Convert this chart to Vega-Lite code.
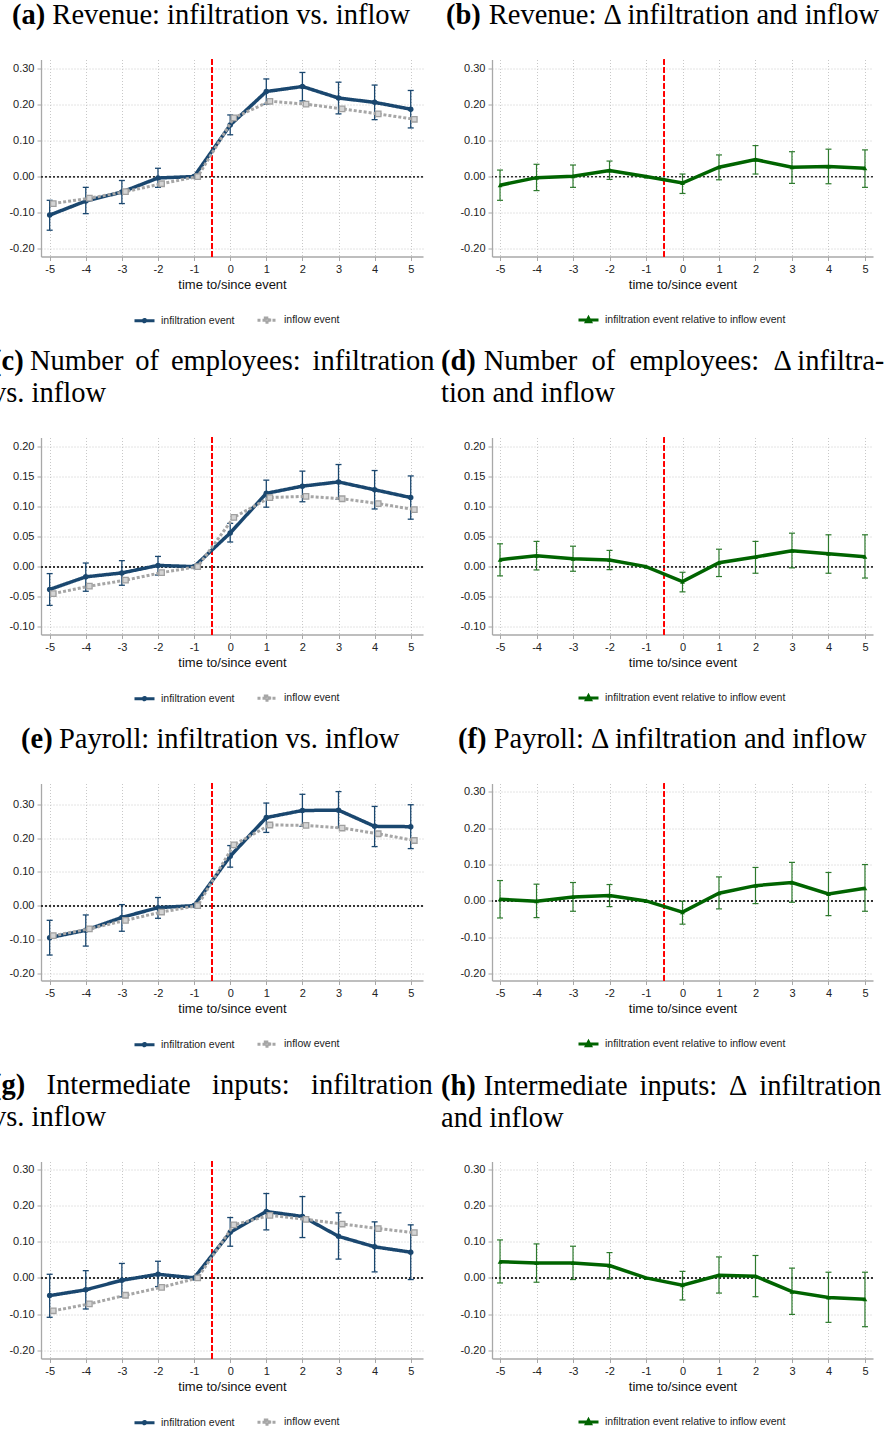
{
"$schema":"https://vega.github.io/schema/vega-lite/v6.json",
"background":"white",
"padding":{"left":-8,"top":0.5,"right":0,"bottom":0},
"autosize":{"type":"pad"},
"datasets":{"d":[
{"p":"a","s":"infiltration event","t":-5,"est":-0.107,"lo":-0.149,"hi":-0.066},
{"p":"a","s":"infiltration event","t":-4,"est":-0.068,"lo":-0.103,"hi":-0.030},
{"p":"a","s":"infiltration event","t":-3,"est":-0.043,"lo":-0.075,"hi":-0.011},
{"p":"a","s":"infiltration event","t":-2,"est":-0.004,"lo":-0.030,"hi":0.023},
{"p":"a","s":"infiltration event","t":-1,"est":0},
{"p":"a","s":"infiltration event","t":0,"est":0.143,"lo":0.116,"hi":0.171},
{"p":"a","s":"infiltration event","t":1,"est":0.236,"lo":0.201,"hi":0.271},
{"p":"a","s":"infiltration event","t":2,"est":0.250,"lo":0.210,"hi":0.289},
{"p":"a","s":"infiltration event","t":3,"est":0.218,"lo":0.174,"hi":0.262},
{"p":"a","s":"infiltration event","t":4,"est":0.206,"lo":0.158,"hi":0.254},
{"p":"a","s":"infiltration event","t":5,"est":0.187,"lo":0.135,"hi":0.239},
{"p":"a","s":"inflow event","t":-5,"est":-0.075},
{"p":"a","s":"inflow event","t":-4,"est":-0.060},
{"p":"a","s":"inflow event","t":-3,"est":-0.042},
{"p":"a","s":"inflow event","t":-2,"est":-0.020},
{"p":"a","s":"inflow event","t":-1,"est":0},
{"p":"a","s":"inflow event","t":0,"est":0.163},
{"p":"a","s":"inflow event","t":1,"est":0.209},
{"p":"a","s":"inflow event","t":2,"est":0.201},
{"p":"a","s":"inflow event","t":3,"est":0.188},
{"p":"a","s":"inflow event","t":4,"est":0.174},
{"p":"a","s":"inflow event","t":5,"est":0.159},
{"p":"b","s":"infiltration event relative to inflow event","t":-5,"est":-0.024,"lo":-0.066,"hi":0.018},
{"p":"b","s":"infiltration event relative to inflow event","t":-4,"est":-0.003,"lo":-0.039,"hi":0.034},
{"p":"b","s":"infiltration event relative to inflow event","t":-3,"est":0.001,"lo":-0.030,"hi":0.032},
{"p":"b","s":"infiltration event relative to inflow event","t":-2,"est":0.017,"lo":-0.008,"hi":0.043},
{"p":"b","s":"infiltration event relative to inflow event","t":-1,"est":0},
{"p":"b","s":"infiltration event relative to inflow event","t":0,"est":-0.018,"lo":-0.047,"hi":0.007},
{"p":"b","s":"infiltration event relative to inflow event","t":1,"est":0.026,"lo":-0.009,"hi":0.060},
{"p":"b","s":"infiltration event relative to inflow event","t":2,"est":0.047,"lo":0.007,"hi":0.086},
{"p":"b","s":"infiltration event relative to inflow event","t":3,"est":0.026,"lo":-0.019,"hi":0.069},
{"p":"b","s":"infiltration event relative to inflow event","t":4,"est":0.028,"lo":-0.020,"hi":0.076},
{"p":"b","s":"infiltration event relative to inflow event","t":5,"est":0.023,"lo":-0.030,"hi":0.074},
{"p":"c","s":"infiltration event","t":-5,"est":-0.038,"lo":-0.0645,"hi":-0.0116},
{"p":"c","s":"infiltration event","t":-4,"est":-0.017,"lo":-0.041,"hi":0.006},
{"p":"c","s":"infiltration event","t":-3,"est":-0.0105,"lo":-0.031,"hi":0.010},
{"p":"c","s":"infiltration event","t":-2,"est":0.002,"lo":-0.014,"hi":0.017},
{"p":"c","s":"infiltration event","t":-1,"est":0},
{"p":"c","s":"infiltration event","t":0,"est":0.056,"lo":0.041,"hi":0.072},
{"p":"c","s":"infiltration event","t":1,"est":0.122,"lo":0.099,"hi":0.144},
{"p":"c","s":"infiltration event","t":2,"est":0.134,"lo":0.108,"hi":0.159},
{"p":"c","s":"infiltration event","t":3,"est":0.141,"lo":0.112,"hi":0.170},
{"p":"c","s":"infiltration event","t":4,"est":0.128,"lo":0.096,"hi":0.160},
{"p":"c","s":"infiltration event","t":5,"est":0.115,"lo":0.079,"hi":0.151},
{"p":"c","s":"inflow event","t":-5,"est":-0.045},
{"p":"c","s":"inflow event","t":-4,"est":-0.0325},
{"p":"c","s":"inflow event","t":-3,"est":-0.0226},
{"p":"c","s":"inflow event","t":-2,"est":-0.010},
{"p":"c","s":"inflow event","t":-1,"est":0},
{"p":"c","s":"inflow event","t":0,"est":0.082},
{"p":"c","s":"inflow event","t":1,"est":0.115},
{"p":"c","s":"inflow event","t":2,"est":0.117},
{"p":"c","s":"inflow event","t":3,"est":0.113},
{"p":"c","s":"inflow event","t":4,"est":0.105},
{"p":"c","s":"inflow event","t":5,"est":0.095},
{"p":"d","s":"infiltration event relative to inflow event","t":-5,"est":0.0116,"lo":-0.0154,"hi":0.038},
{"p":"d","s":"infiltration event relative to inflow event","t":-4,"est":0.018,"lo":-0.0055,"hi":0.042},
{"p":"d","s":"infiltration event relative to inflow event","t":-3,"est":0.013,"lo":-0.0077,"hi":0.034},
{"p":"d","s":"infiltration event relative to inflow event","t":-2,"est":0.011,"lo":-0.005,"hi":0.027},
{"p":"d","s":"infiltration event relative to inflow event","t":-1,"est":0},
{"p":"d","s":"infiltration event relative to inflow event","t":0,"est":-0.025,"lo":-0.042,"hi":-0.0094},
{"p":"d","s":"infiltration event relative to inflow event","t":1,"est":0.0066,"lo":-0.0165,"hi":0.029},
{"p":"d","s":"infiltration event relative to inflow event","t":2,"est":0.016,"lo":-0.011,"hi":0.042},
{"p":"d","s":"infiltration event relative to inflow event","t":3,"est":0.0265,"lo":-0.002,"hi":0.0557},
{"p":"d","s":"infiltration event relative to inflow event","t":4,"est":0.0215,"lo":-0.011,"hi":0.053},
{"p":"d","s":"infiltration event relative to inflow event","t":5,"est":0.0165,"lo":-0.019,"hi":0.053},
{"p":"e","s":"infiltration event","t":-5,"est":-0.095,"lo":-0.1465,"hi":-0.0436},
{"p":"e","s":"infiltration event","t":-4,"est":-0.073,"lo":-0.120,"hi":-0.0277},
{"p":"e","s":"infiltration event","t":-3,"est":-0.035,"lo":-0.076,"hi":0.003},
{"p":"e","s":"infiltration event","t":-2,"est":-0.006,"lo":-0.0376,"hi":0.024},
{"p":"e","s":"infiltration event","t":-1,"est":0},
{"p":"e","s":"infiltration event","t":0,"est":0.1465,"lo":0.114,"hi":0.178},
{"p":"e","s":"infiltration event","t":1,"est":0.261,"lo":0.217,"hi":0.304},
{"p":"e","s":"infiltration event","t":2,"est":0.282,"lo":0.235,"hi":0.330},
{"p":"e","s":"infiltration event","t":3,"est":0.283,"lo":0.231,"hi":0.338},
{"p":"e","s":"infiltration event","t":4,"est":0.235,"lo":0.175,"hi":0.294},
{"p":"e","s":"infiltration event","t":5,"est":0.234,"lo":0.169,"hi":0.299},
{"p":"e","s":"inflow event","t":-5,"est":-0.089},
{"p":"e","s":"inflow event","t":-4,"est":-0.069},
{"p":"e","s":"inflow event","t":-3,"est":-0.0436},
{"p":"e","s":"inflow event","t":-2,"est":-0.019},
{"p":"e","s":"inflow event","t":-1,"est":0},
{"p":"e","s":"inflow event","t":0,"est":0.180},
{"p":"e","s":"inflow event","t":1,"est":0.239},
{"p":"e","s":"inflow event","t":2,"est":0.238},
{"p":"e","s":"inflow event","t":3,"est":0.230},
{"p":"e","s":"inflow event","t":4,"est":0.213},
{"p":"e","s":"inflow event","t":5,"est":0.193},
{"p":"f","s":"infiltration event relative to inflow event","t":-5,"est":0.0046,"lo":-0.047,"hi":0.056},
{"p":"f","s":"infiltration event relative to inflow event","t":-4,"est":-0.001,"lo":-0.046,"hi":0.046},
{"p":"f","s":"infiltration event relative to inflow event","t":-3,"est":0.011,"lo":-0.0285,"hi":0.0506},
{"p":"f","s":"infiltration event relative to inflow event","t":-2,"est":0.0147,"lo":-0.0156,"hi":0.045},
{"p":"f","s":"infiltration event relative to inflow event","t":-1,"est":0},
{"p":"f","s":"infiltration event relative to inflow event","t":0,"est":-0.031,"lo":-0.064,"hi":-0.001},
{"p":"f","s":"infiltration event relative to inflow event","t":1,"est":0.021,"lo":-0.022,"hi":0.066},
{"p":"f","s":"infiltration event relative to inflow event","t":2,"est":0.042,"lo":-0.0074,"hi":0.092},
{"p":"f","s":"infiltration event relative to inflow event","t":3,"est":0.0506,"lo":-0.0037,"hi":0.106},
{"p":"f","s":"infiltration event relative to inflow event","t":4,"est":0.019,"lo":-0.0405,"hi":0.0782},
{"p":"f","s":"infiltration event relative to inflow event","t":5,"est":0.035,"lo":-0.0285,"hi":0.100},
{"p":"g","s":"infiltration event","t":-5,"est":-0.049,"lo":-0.109,"hi":0.010},
{"p":"g","s":"infiltration event","t":-4,"est":-0.033,"lo":-0.086,"hi":0.020},
{"p":"g","s":"infiltration event","t":-3,"est":-0.0065,"lo":-0.0526,"hi":0.040},
{"p":"g","s":"infiltration event","t":-2,"est":0.010,"lo":-0.024,"hi":0.046},
{"p":"g","s":"infiltration event","t":-1,"est":0},
{"p":"g","s":"infiltration event","t":0,"est":0.126,"lo":0.0876,"hi":0.167},
{"p":"g","s":"infiltration event","t":1,"est":0.1836,"lo":0.1328,"hi":0.2334},
{"p":"g","s":"infiltration event","t":2,"est":0.170,"lo":0.1116,"hi":0.225},
{"p":"g","s":"infiltration event","t":3,"est":0.115,"lo":0.052,"hi":0.180},
{"p":"g","s":"infiltration event","t":4,"est":0.086,"lo":0.0166,"hi":0.155},
{"p":"g","s":"infiltration event","t":5,"est":0.071,"lo":-0.0046,"hi":0.1467},
{"p":"g","s":"inflow event","t":-5,"est":-0.091},
{"p":"g","s":"inflow event","t":-4,"est":-0.072},
{"p":"g","s":"inflow event","t":-3,"est":-0.048},
{"p":"g","s":"inflow event","t":-2,"est":-0.026},
{"p":"g","s":"inflow event","t":-1,"est":0},
{"p":"g","s":"inflow event","t":0,"est":0.1467},
{"p":"g","s":"inflow event","t":1,"est":0.173},
{"p":"g","s":"inflow event","t":2,"est":0.162},
{"p":"g","s":"inflow event","t":3,"est":0.149},
{"p":"g","s":"inflow event","t":4,"est":0.1365},
{"p":"g","s":"inflow event","t":5,"est":0.125},
{"p":"h","s":"infiltration event relative to inflow event","t":-5,"est":0.045,"lo":-0.014,"hi":0.105},
{"p":"h","s":"infiltration event relative to inflow event","t":-4,"est":0.0415,"lo":-0.012,"hi":0.094},
{"p":"h","s":"infiltration event relative to inflow event","t":-3,"est":0.0415,"lo":-0.0046,"hi":0.0876},
{"p":"h","s":"infiltration event relative to inflow event","t":-2,"est":0.034,"lo":-0.003,"hi":0.070},
{"p":"h","s":"infiltration event relative to inflow event","t":-1,"est":0},
{"p":"h","s":"infiltration event relative to inflow event","t":0,"est":-0.020,"lo":-0.061,"hi":0.018},
{"p":"h","s":"infiltration event relative to inflow event","t":1,"est":0.0074,"lo":-0.042,"hi":0.058},
{"p":"h","s":"infiltration event relative to inflow event","t":2,"est":0.0046,"lo":-0.052,"hi":0.062},
{"p":"h","s":"infiltration event relative to inflow event","t":3,"est":-0.038,"lo":-0.101,"hi":0.027},
{"p":"h","s":"infiltration event relative to inflow event","t":4,"est":-0.054,"lo":-0.123,"hi":0.0157},
{"p":"h","s":"infiltration event relative to inflow event","t":5,"est":-0.059,"lo":-0.135,"hi":0.0157}
]},
"resolve":{"scale":{"color":"independent","strokeDash":"independent"}},
"spacing":18,
"vconcat":[
{"hconcat":[
 {"width":382,"height":197,"data":{"name":"d"},"transform":[{"filter":"datum.p=='a'"}],
  "title":{"text":"(a)","subtitle":"\u200b\u2003\u2005\u2006Revenue: infiltration vs. inflow","dx":-29},
  "layer":[
   {"mark":{"type":"rule","color":"#ff0000","strokeDash":[5,3],"strokeWidth":1.2},"encoding":{"x":{"datum":-0.5,"type":"quantitative"}}},
   {"mark":{"type":"rule","color":"#333333","strokeDash":[2,2],"strokeWidth":1},"encoding":{"y":{"datum":0,"type":"quantitative"}}},
   {"transform":[{"filter":"datum.s=='infiltration event'"}],"mark":{"type":"rule","color":"#1a476f","strokeWidth":1.3},"encoding":{"x":{"field":"t","type":"quantitative","scale":{"domain":[-5.24,5.34],"nice":false,"zero":false},"axis":{"values":[-5,-4,-3,-2,-1,0,1,2,3,4,5],"tickCount":30,"labelOverlap":false,"labelExpr":"replace(format(datum.value,'d'),'\u2212','-')","title":"time to/since event"}},"y":{"field":"lo","type":"quantitative","scale":{"domain":[-0.222,0.325],"nice":false,"zero":false},"axis":{"values":[-0.2,-0.1,0,0.1,0.2,0.3],"tickCount":30,"labelOverlap":false,"labelExpr":"replace(format(datum.value,'.2f'),'\u2212','-')","title":null}},"y2":{"field":"hi"}}},
   {"transform":[{"filter":"datum.s=='infiltration event'"}],"mark":{"type":"tick","orient":"horizontal","color":"#1a476f","size":6,"thickness":1.3,"opacity":1},"encoding":{"x":{"field":"t","type":"quantitative"},"y":{"field":"lo","type":"quantitative"}}},
   {"transform":[{"filter":"datum.s=='infiltration event'"}],"mark":{"type":"tick","orient":"horizontal","color":"#1a476f","size":6,"thickness":1.3,"opacity":1},"encoding":{"x":{"field":"t","type":"quantitative"},"y":{"field":"hi","type":"quantitative"}}},
   {"transform":[{"filter":"datum.s=='infiltration event'"}],"mark":{"type":"line","strokeWidth":3.5},"encoding":{"x":{"field":"t","type":"quantitative"},"y":{"field":"est","type":"quantitative"},"color":{"field":"s","type":"nominal","scale":{"domain":["infiltration event","inflow event"],"range":["#1a476f","#a6a6a6"]},"legend":{"title":null,"orient":"none","legendX":92,"legendY":249,"direction":"horizontal","symbolType":"stroke","symbolSize":400,"symbolStrokeWidth":3,"labelOffset":5,"columnPadding":16,"padding":0,"labelFontSize":10.5,"labelLimit":300,"labelFont":"Liberation Sans","labelColor":"#222222","encode":{"symbols":{"update":{"shape":{"signal":"datum.value === 'inflow event' ? 'M-1,0H1M-0.22,-0.22H0.22V0.22H-0.22Z' : 'M-1,0H1M-0.12,0A0.12,0.12,0,1,1,0.12,0A0.12,0.12,0,1,1,-0.12,0Z'"},"fill":{"signal":"datum.value === 'inflow event' ? '#d4d4d4' : '#1a476f'"}}}}}},"strokeDash":{"field":"s","type":"nominal","scale":{"domain":["infiltration event","inflow event"],"range":[[1,0],[3,2]]},"legend":{"title":null,"orient":"none","legendX":92,"legendY":249,"direction":"horizontal","symbolType":"stroke","symbolSize":400,"symbolStrokeWidth":3,"labelOffset":5,"columnPadding":16,"padding":0,"labelFontSize":10.5,"labelLimit":300,"labelFont":"Liberation Sans","labelColor":"#222222"}}}},
   {"transform":[{"filter":"datum.s=='infiltration event'"}],"mark":{"type":"circle","color":"#1a476f","size":30,"opacity":1},"encoding":{"x":{"field":"t","type":"quantitative"},"y":{"field":"est","type":"quantitative"}}},
   {"transform":[{"filter":"datum.s=='inflow event'"}],"mark":{"type":"line","strokeWidth":3,"xOffset":3.6},"encoding":{"x":{"field":"t","type":"quantitative"},"y":{"field":"est","type":"quantitative"},"color":{"field":"s","type":"nominal"},"strokeDash":{"field":"s","type":"nominal"}}},
   {"transform":[{"filter":"datum.s=='inflow event'"}],"mark":{"type":"square","fill":"#d4d4d4","stroke":"#a0a0a0","strokeWidth":1.3,"size":30,"xOffset":3.6,"opacity":1},"encoding":{"x":{"field":"t","type":"quantitative"},"y":{"field":"est","type":"quantitative"}}}
  ]},
 {"width":381,"height":197,"data":{"name":"d"},"transform":[{"filter":"datum.p=='b'"}],
  "title":{"text":"(b)","subtitle":"\u200b\u2003\u2004\u2006Revenue: \u0394 infiltration and inflow","dx":-46},
  "layer":[
   {"mark":{"type":"rule","color":"#ff0000","strokeDash":[5,3],"strokeWidth":1.2},"encoding":{"x":{"datum":-0.5,"type":"quantitative"}}},
   {"mark":{"type":"rule","color":"#333333","strokeDash":[2,2],"strokeWidth":1},"encoding":{"y":{"datum":0,"type":"quantitative"}}},
   {"mark":{"type":"rule","color":"#2d7a2d","strokeWidth":1.2},"encoding":{"x":{"field":"t","type":"quantitative","scale":{"domain":[-5.22,5.22],"nice":false,"zero":false},"axis":{"values":[-5,-4,-3,-2,-1,0,1,2,3,4,5],"tickCount":30,"labelOverlap":false,"labelExpr":"replace(format(datum.value,'d'),'\u2212','-')","title":"time to/since event"}},"y":{"field":"lo","type":"quantitative","scale":{"domain":[-0.222,0.325],"nice":false,"zero":false},"axis":{"values":[-0.2,-0.1,0,0.1,0.2,0.3],"tickCount":30,"labelOverlap":false,"labelExpr":"replace(format(datum.value,'.2f'),'\u2212','-')","title":null}},"y2":{"field":"hi"}}},
   {"mark":{"type":"tick","orient":"horizontal","color":"#2d7a2d","size":6,"thickness":1.2,"opacity":1},"encoding":{"x":{"field":"t","type":"quantitative"},"y":{"field":"lo","type":"quantitative"}}},
   {"mark":{"type":"tick","orient":"horizontal","color":"#2d7a2d","size":6,"thickness":1.2,"opacity":1},"encoding":{"x":{"field":"t","type":"quantitative"},"y":{"field":"hi","type":"quantitative"}}},
   {"mark":{"type":"line","strokeWidth":3.5},"encoding":{"x":{"field":"t","type":"quantitative"},"y":{"field":"est","type":"quantitative"},"color":{"field":"s","type":"nominal","scale":{"domain":["infiltration event relative to inflow event"],"range":["#006400"]},"legend":{"title":null,"orient":"none","legendX":85,"legendY":249,"direction":"horizontal","symbolType":"stroke","symbolSize":400,"symbolStrokeWidth":3,"labelOffset":5,"padding":0,"labelFontSize":10.5,"labelLimit":300,"labelFont":"Liberation Sans","labelColor":"#222222","encode":{"symbols":{"update":{"shape":{"value":"M-1,0H1M-0.2,0.17L0,-0.2L0.2,0.17Z"},"fill":{"value":"#006400"}}}}}}}},
   {"mark":{"type":"point","shape":"triangle-up","filled":true,"color":"#006400","size":22,"opacity":1},"encoding":{"x":{"field":"t","type":"quantitative"},"y":{"field":"est","type":"quantitative"}}}
  ]}
 ],"spacing":69,"bounds":"flush","resolve":{"scale":{"color":"independent","strokeDash":"independent"}}},
{"hconcat":[
 {"width":382,"height":197,"data":{"name":"d"},"transform":[{"filter":"datum.p=='c'"}],
  "title":{"text":"(c)","subtitle":["\u200b\u2003\u2004Number\u2006 of\u2006 employees:\u2006 infiltration","vs. inflow"],"dx":-49},
  "layer":[
   {"mark":{"type":"rule","color":"#ff0000","strokeDash":[5,3],"strokeWidth":1.2},"encoding":{"x":{"datum":-0.5,"type":"quantitative"}}},
   {"mark":{"type":"rule","color":"#333333","strokeDash":[2,2],"strokeWidth":1},"encoding":{"y":{"datum":0,"type":"quantitative"}}},
   {"transform":[{"filter":"datum.s=='infiltration event'"}],"mark":{"type":"rule","color":"#1a476f","strokeWidth":1.3},"encoding":{"x":{"field":"t","type":"quantitative","scale":{"domain":[-5.24,5.34],"nice":false,"zero":false},"axis":{"values":[-5,-4,-3,-2,-1,0,1,2,3,4,5],"tickCount":30,"labelOverlap":false,"labelExpr":"replace(format(datum.value,'d'),'\u2212','-')","title":"time to/since event"}},"y":{"field":"lo","type":"quantitative","scale":{"domain":[-0.113,0.215],"nice":false,"zero":false},"axis":{"values":[-0.1,-0.05,0,0.05,0.1,0.15,0.2],"tickCount":30,"labelOverlap":false,"labelExpr":"replace(format(datum.value,'.2f'),'\u2212','-')","title":null}},"y2":{"field":"hi"}}},
   {"transform":[{"filter":"datum.s=='infiltration event'"}],"mark":{"type":"tick","orient":"horizontal","color":"#1a476f","size":6,"thickness":1.3,"opacity":1},"encoding":{"x":{"field":"t","type":"quantitative"},"y":{"field":"lo","type":"quantitative"}}},
   {"transform":[{"filter":"datum.s=='infiltration event'"}],"mark":{"type":"tick","orient":"horizontal","color":"#1a476f","size":6,"thickness":1.3,"opacity":1},"encoding":{"x":{"field":"t","type":"quantitative"},"y":{"field":"hi","type":"quantitative"}}},
   {"transform":[{"filter":"datum.s=='infiltration event'"}],"mark":{"type":"line","strokeWidth":3.5},"encoding":{"x":{"field":"t","type":"quantitative"},"y":{"field":"est","type":"quantitative"},"color":{"field":"s","type":"nominal","scale":{"domain":["infiltration event","inflow event"],"range":["#1a476f","#a6a6a6"]},"legend":{"title":null,"orient":"none","legendX":92,"legendY":249,"direction":"horizontal","symbolType":"stroke","symbolSize":400,"symbolStrokeWidth":3,"labelOffset":5,"columnPadding":16,"padding":0,"labelFontSize":10.5,"labelLimit":300,"labelFont":"Liberation Sans","labelColor":"#222222","encode":{"symbols":{"update":{"shape":{"signal":"datum.value === 'inflow event' ? 'M-1,0H1M-0.22,-0.22H0.22V0.22H-0.22Z' : 'M-1,0H1M-0.12,0A0.12,0.12,0,1,1,0.12,0A0.12,0.12,0,1,1,-0.12,0Z'"},"fill":{"signal":"datum.value === 'inflow event' ? '#d4d4d4' : '#1a476f'"}}}}}},"strokeDash":{"field":"s","type":"nominal","scale":{"domain":["infiltration event","inflow event"],"range":[[1,0],[3,2]]},"legend":{"title":null,"orient":"none","legendX":92,"legendY":249,"direction":"horizontal","symbolType":"stroke","symbolSize":400,"symbolStrokeWidth":3,"labelOffset":5,"columnPadding":16,"padding":0,"labelFontSize":10.5,"labelLimit":300,"labelFont":"Liberation Sans","labelColor":"#222222"}}}},
   {"transform":[{"filter":"datum.s=='infiltration event'"}],"mark":{"type":"circle","color":"#1a476f","size":30,"opacity":1},"encoding":{"x":{"field":"t","type":"quantitative"},"y":{"field":"est","type":"quantitative"}}},
   {"transform":[{"filter":"datum.s=='inflow event'"}],"mark":{"type":"line","strokeWidth":3,"xOffset":3.6},"encoding":{"x":{"field":"t","type":"quantitative"},"y":{"field":"est","type":"quantitative"},"color":{"field":"s","type":"nominal"},"strokeDash":{"field":"s","type":"nominal"}}},
   {"transform":[{"filter":"datum.s=='inflow event'"}],"mark":{"type":"square","fill":"#d4d4d4","stroke":"#a0a0a0","strokeWidth":1.3,"size":30,"xOffset":3.6,"opacity":1},"encoding":{"x":{"field":"t","type":"quantitative"},"y":{"field":"est","type":"quantitative"}}}
  ]},
 {"width":381,"height":197,"data":{"name":"d"},"transform":[{"filter":"datum.p=='d'"}],
  "title":{"text":"(d)","subtitle":["\u200b\u2003\u2004\u2006Number\u2005 of\u2005 employees:\u2005 \u0394 infiltra-","tion and inflow"],"dx":-51},
  "layer":[
   {"mark":{"type":"rule","color":"#ff0000","strokeDash":[5,3],"strokeWidth":1.2},"encoding":{"x":{"datum":-0.5,"type":"quantitative"}}},
   {"mark":{"type":"rule","color":"#333333","strokeDash":[2,2],"strokeWidth":1},"encoding":{"y":{"datum":0,"type":"quantitative"}}},
   {"mark":{"type":"rule","color":"#2d7a2d","strokeWidth":1.2},"encoding":{"x":{"field":"t","type":"quantitative","scale":{"domain":[-5.22,5.22],"nice":false,"zero":false},"axis":{"values":[-5,-4,-3,-2,-1,0,1,2,3,4,5],"tickCount":30,"labelOverlap":false,"labelExpr":"replace(format(datum.value,'d'),'\u2212','-')","title":"time to/since event"}},"y":{"field":"lo","type":"quantitative","scale":{"domain":[-0.113,0.215],"nice":false,"zero":false},"axis":{"values":[-0.1,-0.05,0,0.05,0.1,0.15,0.2],"tickCount":30,"labelOverlap":false,"labelExpr":"replace(format(datum.value,'.2f'),'\u2212','-')","title":null}},"y2":{"field":"hi"}}},
   {"mark":{"type":"tick","orient":"horizontal","color":"#2d7a2d","size":6,"thickness":1.2,"opacity":1},"encoding":{"x":{"field":"t","type":"quantitative"},"y":{"field":"lo","type":"quantitative"}}},
   {"mark":{"type":"tick","orient":"horizontal","color":"#2d7a2d","size":6,"thickness":1.2,"opacity":1},"encoding":{"x":{"field":"t","type":"quantitative"},"y":{"field":"hi","type":"quantitative"}}},
   {"mark":{"type":"line","strokeWidth":3.5},"encoding":{"x":{"field":"t","type":"quantitative"},"y":{"field":"est","type":"quantitative"},"color":{"field":"s","type":"nominal","scale":{"domain":["infiltration event relative to inflow event"],"range":["#006400"]},"legend":{"title":null,"orient":"none","legendX":85,"legendY":249,"direction":"horizontal","symbolType":"stroke","symbolSize":400,"symbolStrokeWidth":3,"labelOffset":5,"padding":0,"labelFontSize":10.5,"labelLimit":300,"labelFont":"Liberation Sans","labelColor":"#222222","encode":{"symbols":{"update":{"shape":{"value":"M-1,0H1M-0.2,0.17L0,-0.2L0.2,0.17Z"},"fill":{"value":"#006400"}}}}}}}},
   {"mark":{"type":"point","shape":"triangle-up","filled":true,"color":"#006400","size":22,"opacity":1},"encoding":{"x":{"field":"t","type":"quantitative"},"y":{"field":"est","type":"quantitative"}}}
  ]}
 ],"spacing":69,"bounds":"flush","resolve":{"scale":{"color":"independent","strokeDash":"independent"}}},
{"hconcat":[
 {"width":382,"height":197,"data":{"name":"d"},"transform":[{"filter":"datum.p=='e'"}],
  "title":{"text":"(e)","subtitle":"\u200b\u2003\u2004Payroll: infiltration vs. inflow","dx":-20},
  "layer":[
   {"mark":{"type":"rule","color":"#ff0000","strokeDash":[5,3],"strokeWidth":1.2},"encoding":{"x":{"datum":-0.5,"type":"quantitative"}}},
   {"mark":{"type":"rule","color":"#333333","strokeDash":[2,2],"strokeWidth":1},"encoding":{"y":{"datum":0,"type":"quantitative"}}},
   {"transform":[{"filter":"datum.s=='infiltration event'"}],"mark":{"type":"rule","color":"#1a476f","strokeWidth":1.3},"encoding":{"x":{"field":"t","type":"quantitative","scale":{"domain":[-5.24,5.34],"nice":false,"zero":false},"axis":{"values":[-5,-4,-3,-2,-1,0,1,2,3,4,5],"tickCount":30,"labelOverlap":false,"labelExpr":"replace(format(datum.value,'d'),'\u2212','-')","title":"time to/since event"}},"y":{"field":"lo","type":"quantitative","scale":{"domain":[-0.222,0.362],"nice":false,"zero":false},"axis":{"values":[-0.2,-0.1,0,0.1,0.2,0.3],"tickCount":30,"labelOverlap":false,"labelExpr":"replace(format(datum.value,'.2f'),'\u2212','-')","title":null}},"y2":{"field":"hi"}}},
   {"transform":[{"filter":"datum.s=='infiltration event'"}],"mark":{"type":"tick","orient":"horizontal","color":"#1a476f","size":6,"thickness":1.3,"opacity":1},"encoding":{"x":{"field":"t","type":"quantitative"},"y":{"field":"lo","type":"quantitative"}}},
   {"transform":[{"filter":"datum.s=='infiltration event'"}],"mark":{"type":"tick","orient":"horizontal","color":"#1a476f","size":6,"thickness":1.3,"opacity":1},"encoding":{"x":{"field":"t","type":"quantitative"},"y":{"field":"hi","type":"quantitative"}}},
   {"transform":[{"filter":"datum.s=='infiltration event'"}],"mark":{"type":"line","strokeWidth":3.5},"encoding":{"x":{"field":"t","type":"quantitative"},"y":{"field":"est","type":"quantitative"},"color":{"field":"s","type":"nominal","scale":{"domain":["infiltration event","inflow event"],"range":["#1a476f","#a6a6a6"]},"legend":{"title":null,"orient":"none","legendX":92,"legendY":249,"direction":"horizontal","symbolType":"stroke","symbolSize":400,"symbolStrokeWidth":3,"labelOffset":5,"columnPadding":16,"padding":0,"labelFontSize":10.5,"labelLimit":300,"labelFont":"Liberation Sans","labelColor":"#222222","encode":{"symbols":{"update":{"shape":{"signal":"datum.value === 'inflow event' ? 'M-1,0H1M-0.22,-0.22H0.22V0.22H-0.22Z' : 'M-1,0H1M-0.12,0A0.12,0.12,0,1,1,0.12,0A0.12,0.12,0,1,1,-0.12,0Z'"},"fill":{"signal":"datum.value === 'inflow event' ? '#d4d4d4' : '#1a476f'"}}}}}},"strokeDash":{"field":"s","type":"nominal","scale":{"domain":["infiltration event","inflow event"],"range":[[1,0],[3,2]]},"legend":{"title":null,"orient":"none","legendX":92,"legendY":249,"direction":"horizontal","symbolType":"stroke","symbolSize":400,"symbolStrokeWidth":3,"labelOffset":5,"columnPadding":16,"padding":0,"labelFontSize":10.5,"labelLimit":300,"labelFont":"Liberation Sans","labelColor":"#222222"}}}},
   {"transform":[{"filter":"datum.s=='infiltration event'"}],"mark":{"type":"circle","color":"#1a476f","size":30,"opacity":1},"encoding":{"x":{"field":"t","type":"quantitative"},"y":{"field":"est","type":"quantitative"}}},
   {"transform":[{"filter":"datum.s=='inflow event'"}],"mark":{"type":"line","strokeWidth":3,"xOffset":3.6},"encoding":{"x":{"field":"t","type":"quantitative"},"y":{"field":"est","type":"quantitative"},"color":{"field":"s","type":"nominal"},"strokeDash":{"field":"s","type":"nominal"}}},
   {"transform":[{"filter":"datum.s=='inflow event'"}],"mark":{"type":"square","fill":"#d4d4d4","stroke":"#a0a0a0","strokeWidth":1.3,"size":30,"xOffset":3.6,"opacity":1},"encoding":{"x":{"field":"t","type":"quantitative"},"y":{"field":"est","type":"quantitative"}}}
  ]},
 {"width":381,"height":197,"data":{"name":"d"},"transform":[{"filter":"datum.p=='f'"}],
  "title":{"text":"(f)","subtitle":"\u200b\u2003\u2005Payroll: \u0394 infiltration and inflow","dx":-34},
  "layer":[
   {"mark":{"type":"rule","color":"#ff0000","strokeDash":[5,3],"strokeWidth":1.2},"encoding":{"x":{"datum":-0.5,"type":"quantitative"}}},
   {"mark":{"type":"rule","color":"#333333","strokeDash":[2,2],"strokeWidth":1},"encoding":{"y":{"datum":0,"type":"quantitative"}}},
   {"mark":{"type":"rule","color":"#2d7a2d","strokeWidth":1.2},"encoding":{"x":{"field":"t","type":"quantitative","scale":{"domain":[-5.22,5.22],"nice":false,"zero":false},"axis":{"values":[-5,-4,-3,-2,-1,0,1,2,3,4,5],"tickCount":30,"labelOverlap":false,"labelExpr":"replace(format(datum.value,'d'),'\u2212','-')","title":"time to/since event"}},"y":{"field":"lo","type":"quantitative","scale":{"domain":[-0.219,0.323],"nice":false,"zero":false},"axis":{"values":[-0.2,-0.1,0,0.1,0.2,0.3],"tickCount":30,"labelOverlap":false,"labelExpr":"replace(format(datum.value,'.2f'),'\u2212','-')","title":null}},"y2":{"field":"hi"}}},
   {"mark":{"type":"tick","orient":"horizontal","color":"#2d7a2d","size":6,"thickness":1.2,"opacity":1},"encoding":{"x":{"field":"t","type":"quantitative"},"y":{"field":"lo","type":"quantitative"}}},
   {"mark":{"type":"tick","orient":"horizontal","color":"#2d7a2d","size":6,"thickness":1.2,"opacity":1},"encoding":{"x":{"field":"t","type":"quantitative"},"y":{"field":"hi","type":"quantitative"}}},
   {"mark":{"type":"line","strokeWidth":3.5},"encoding":{"x":{"field":"t","type":"quantitative"},"y":{"field":"est","type":"quantitative"},"color":{"field":"s","type":"nominal","scale":{"domain":["infiltration event relative to inflow event"],"range":["#006400"]},"legend":{"title":null,"orient":"none","legendX":85,"legendY":249,"direction":"horizontal","symbolType":"stroke","symbolSize":400,"symbolStrokeWidth":3,"labelOffset":5,"padding":0,"labelFontSize":10.5,"labelLimit":300,"labelFont":"Liberation Sans","labelColor":"#222222","encode":{"symbols":{"update":{"shape":{"value":"M-1,0H1M-0.2,0.17L0,-0.2L0.2,0.17Z"},"fill":{"value":"#006400"}}}}}}}},
   {"mark":{"type":"point","shape":"triangle-up","filled":true,"color":"#006400","size":22,"opacity":1},"encoding":{"x":{"field":"t","type":"quantitative"},"y":{"field":"est","type":"quantitative"}}}
  ]}
 ],"spacing":69,"bounds":"flush","resolve":{"scale":{"color":"independent","strokeDash":"independent"}}},
{"hconcat":[
 {"width":382,"height":197,"data":{"name":"d"},"transform":[{"filter":"datum.p=='g'"}],
  "title":{"text":"(g)","subtitle":["\u200b\u2003\u2002\u2005\u2006Intermediate\u2002 inputs:\u2002 infiltration","vs. inflow"],"dx":-49},
  "layer":[
   {"mark":{"type":"rule","color":"#ff0000","strokeDash":[5,3],"strokeWidth":1.2},"encoding":{"x":{"datum":-0.5,"type":"quantitative"}}},
   {"mark":{"type":"rule","color":"#333333","strokeDash":[2,2],"strokeWidth":1},"encoding":{"y":{"datum":0,"type":"quantitative"}}},
   {"transform":[{"filter":"datum.s=='infiltration event'"}],"mark":{"type":"rule","color":"#1a476f","strokeWidth":1.3},"encoding":{"x":{"field":"t","type":"quantitative","scale":{"domain":[-5.24,5.34],"nice":false,"zero":false},"axis":{"values":[-5,-4,-3,-2,-1,0,1,2,3,4,5],"tickCount":30,"labelOverlap":false,"labelExpr":"replace(format(datum.value,'d'),'\u2212','-')","title":"time to/since event"}},"y":{"field":"lo","type":"quantitative","scale":{"domain":[-0.223,0.322],"nice":false,"zero":false},"axis":{"values":[-0.2,-0.1,0,0.1,0.2,0.3],"tickCount":30,"labelOverlap":false,"labelExpr":"replace(format(datum.value,'.2f'),'\u2212','-')","title":null}},"y2":{"field":"hi"}}},
   {"transform":[{"filter":"datum.s=='infiltration event'"}],"mark":{"type":"tick","orient":"horizontal","color":"#1a476f","size":6,"thickness":1.3,"opacity":1},"encoding":{"x":{"field":"t","type":"quantitative"},"y":{"field":"lo","type":"quantitative"}}},
   {"transform":[{"filter":"datum.s=='infiltration event'"}],"mark":{"type":"tick","orient":"horizontal","color":"#1a476f","size":6,"thickness":1.3,"opacity":1},"encoding":{"x":{"field":"t","type":"quantitative"},"y":{"field":"hi","type":"quantitative"}}},
   {"transform":[{"filter":"datum.s=='infiltration event'"}],"mark":{"type":"line","strokeWidth":3.5},"encoding":{"x":{"field":"t","type":"quantitative"},"y":{"field":"est","type":"quantitative"},"color":{"field":"s","type":"nominal","scale":{"domain":["infiltration event","inflow event"],"range":["#1a476f","#a6a6a6"]},"legend":{"title":null,"orient":"none","legendX":92,"legendY":249,"direction":"horizontal","symbolType":"stroke","symbolSize":400,"symbolStrokeWidth":3,"labelOffset":5,"columnPadding":16,"padding":0,"labelFontSize":10.5,"labelLimit":300,"labelFont":"Liberation Sans","labelColor":"#222222","encode":{"symbols":{"update":{"shape":{"signal":"datum.value === 'inflow event' ? 'M-1,0H1M-0.22,-0.22H0.22V0.22H-0.22Z' : 'M-1,0H1M-0.12,0A0.12,0.12,0,1,1,0.12,0A0.12,0.12,0,1,1,-0.12,0Z'"},"fill":{"signal":"datum.value === 'inflow event' ? '#d4d4d4' : '#1a476f'"}}}}}},"strokeDash":{"field":"s","type":"nominal","scale":{"domain":["infiltration event","inflow event"],"range":[[1,0],[3,2]]},"legend":{"title":null,"orient":"none","legendX":92,"legendY":249,"direction":"horizontal","symbolType":"stroke","symbolSize":400,"symbolStrokeWidth":3,"labelOffset":5,"columnPadding":16,"padding":0,"labelFontSize":10.5,"labelLimit":300,"labelFont":"Liberation Sans","labelColor":"#222222"}}}},
   {"transform":[{"filter":"datum.s=='infiltration event'"}],"mark":{"type":"circle","color":"#1a476f","size":30,"opacity":1},"encoding":{"x":{"field":"t","type":"quantitative"},"y":{"field":"est","type":"quantitative"}}},
   {"transform":[{"filter":"datum.s=='inflow event'"}],"mark":{"type":"line","strokeWidth":3,"xOffset":3.6},"encoding":{"x":{"field":"t","type":"quantitative"},"y":{"field":"est","type":"quantitative"},"color":{"field":"s","type":"nominal"},"strokeDash":{"field":"s","type":"nominal"}}},
   {"transform":[{"filter":"datum.s=='inflow event'"}],"mark":{"type":"square","fill":"#d4d4d4","stroke":"#a0a0a0","strokeWidth":1.3,"size":30,"xOffset":3.6,"opacity":1},"encoding":{"x":{"field":"t","type":"quantitative"},"y":{"field":"est","type":"quantitative"}}}
  ]},
 {"width":381,"height":197,"data":{"name":"d"},"transform":[{"filter":"datum.p=='h'"}],
  "title":{"text":"(h)","subtitle":["\u200b\u2003\u2004\u2006Intermediate\u2006 inputs:\u2006 \u0394\u2006 infiltration","and inflow"],"dx":-51},
  "layer":[
   {"mark":{"type":"rule","color":"#333333","strokeDash":[2,2],"strokeWidth":1},"encoding":{"y":{"datum":0,"type":"quantitative"}}},
   {"mark":{"type":"rule","color":"#2d7a2d","strokeWidth":1.2},"encoding":{"x":{"field":"t","type":"quantitative","scale":{"domain":[-5.22,5.22],"nice":false,"zero":false},"axis":{"values":[-5,-4,-3,-2,-1,0,1,2,3,4,5],"tickCount":30,"labelOverlap":false,"labelExpr":"replace(format(datum.value,'d'),'\u2212','-')","title":"time to/since event"}},"y":{"field":"lo","type":"quantitative","scale":{"domain":[-0.223,0.322],"nice":false,"zero":false},"axis":{"values":[-0.2,-0.1,0,0.1,0.2,0.3],"tickCount":30,"labelOverlap":false,"labelExpr":"replace(format(datum.value,'.2f'),'\u2212','-')","title":null}},"y2":{"field":"hi"}}},
   {"mark":{"type":"tick","orient":"horizontal","color":"#2d7a2d","size":6,"thickness":1.2,"opacity":1},"encoding":{"x":{"field":"t","type":"quantitative"},"y":{"field":"lo","type":"quantitative"}}},
   {"mark":{"type":"tick","orient":"horizontal","color":"#2d7a2d","size":6,"thickness":1.2,"opacity":1},"encoding":{"x":{"field":"t","type":"quantitative"},"y":{"field":"hi","type":"quantitative"}}},
   {"mark":{"type":"line","strokeWidth":3.5},"encoding":{"x":{"field":"t","type":"quantitative"},"y":{"field":"est","type":"quantitative"},"color":{"field":"s","type":"nominal","scale":{"domain":["infiltration event relative to inflow event"],"range":["#006400"]},"legend":{"title":null,"orient":"none","legendX":85,"legendY":249,"direction":"horizontal","symbolType":"stroke","symbolSize":400,"symbolStrokeWidth":3,"labelOffset":5,"padding":0,"labelFontSize":10.5,"labelLimit":300,"labelFont":"Liberation Sans","labelColor":"#222222","encode":{"symbols":{"update":{"shape":{"value":"M-1,0H1M-0.2,0.17L0,-0.2L0.2,0.17Z"},"fill":{"value":"#006400"}}}}}}}},
   {"mark":{"type":"point","shape":"triangle-up","filled":true,"color":"#006400","size":22,"opacity":1},"encoding":{"x":{"field":"t","type":"quantitative"},"y":{"field":"est","type":"quantitative"}}}
  ]}
 ],"spacing":69,"bounds":"flush","resolve":{"scale":{"color":"independent","strokeDash":"independent"}}}
],
"config":{
 "view":{"stroke":null},
 "font":"Liberation Sans",
 "axis":{"labelFont":"Liberation Sans","labelFontSize":11,"labelColor":"#222222","labelOverlap":false,"titleFont":"Liberation Sans","titleFontSize":13,"titleFontWeight":"normal","titleColor":"#111111","domainColor":"#a8a8a8","domainWidth":1.3,"tickColor":"#a8a8a8","tickWidth":1,"tickSize":4,"labelPadding":3,"grid":true,"gridColor":"#c8c8c8","gridDash":[1,2],"gridWidth":1,"labelFlush":false,"titlePadding":4},
 "title":{"font":"Liberation Serif","fontSize":28.5,"fontWeight":"bold","color":"#000000","anchor":"start","frame":"group","offset":29,"baseline":"top","subtitleFont":"Liberation Serif","subtitleFontSize":28.5,"subtitleFontWeight":"normal","subtitleColor":"#000000","subtitlePadding":-28.5,"subtitleLineHeight":32}
}
}
